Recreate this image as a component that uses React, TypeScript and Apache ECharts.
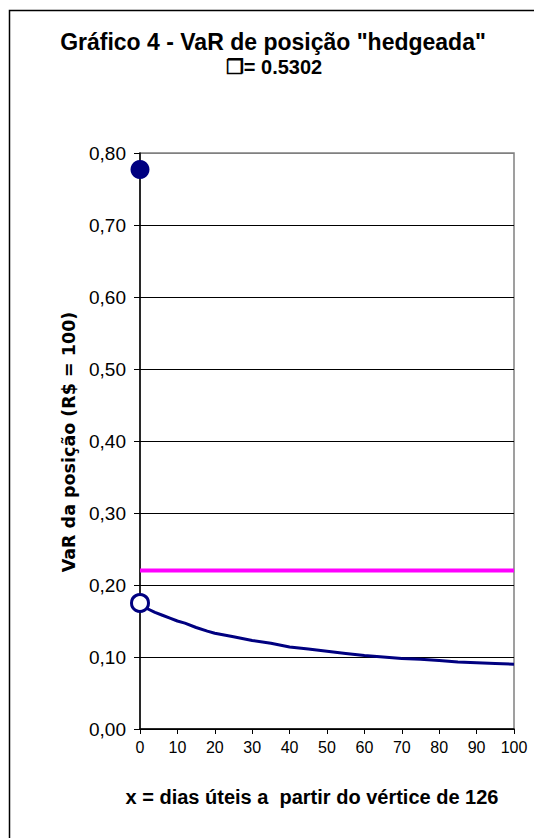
import React, { useEffect, useRef } from "react";
import * as echarts from "echarts";

const titleLine1 = 'Gráfico 4 - VaR de posição "hedgeada"';
const titleLine2 = "❐= 0.5302";
const yAxisTitle = "VaR da posição (R$ = 100)";
const xAxisTitle = "x = dias úteis a  partir do vértice de 126";

const xTicks = [0, 10, 20, 30, 40, 50, 60, 70, 80, 90, 100];
const yTicks = [0, 0.1, 0.2, 0.3, 0.4, 0.5, 0.6, 0.7, 0.8];

// VaR curve of the hedged position (days vs VaR)
const varDays = [0, 2, 4, 6, 8, 10, 12, 15, 18, 20, 25, 30, 35, 40, 45, 50, 55, 60, 65, 70, 75, 80, 85, 90, 95, 100];
const varValues = [0.175, 0.167, 0.162, 0.158, 0.154, 0.15, 0.147, 0.141, 0.136, 0.133, 0.128, 0.123, 0.119, 0.114, 0.111, 0.108, 0.105, 0.102, 0.1, 0.098, 0.097, 0.095, 0.093, 0.092, 0.091, 0.09];

// reference level (magenta)
const refDays = [0, 100];
const refValues = [0.22, 0.22];

// highlighted points
const openPoint = [0, 0.175];
const filledPoint = [0, 0.777];

const FONT = "'Liberation Sans', Arial, sans-serif";

export default function App() {
  const ref = useRef<HTMLDivElement>(null);
  useEffect(() => {
    if (!ref.current) return;
    const chart = echarts.init(ref.current, null, { renderer: "svg" });
    const splitColors = yTicks.map((_, i) => (i === yTicks.length - 1 ? "#808080" : "#000000"));
    chart.setOption({
      animation: false,
      backgroundColor: "#ffffff",
      textStyle: { fontFamily: FONT },
      grid: {
        left: 140,
        right: 20,
        top: 153,
        bottom: 109,
        show: true,
        borderColor: "#808080",
        borderWidth: 1.5,
        backgroundColor: "transparent",
      },
      xAxis: {
        type: "value",
        min: 0,
        max: 100,
        interval: 10,
        axisLine: { show: true, onZero: false, lineStyle: { color: "#000", width: 1.5 } },
        axisTick: { show: true, inside: false, length: 5, lineStyle: { color: "#000", width: 1 } },
        axisLabel: {
          color: "#000",
          fontSize: 16,
          fontFamily: FONT,
          margin: 10,
          formatter: (v: number) => (xTicks.includes(v) ? String(v) : ""),
        },
        splitLine: { show: false },
      },
      yAxis: {
        type: "value",
        min: 0,
        max: 0.8,
        interval: 0.1,
        axisLine: { show: true, onZero: false, lineStyle: { color: "#000", width: 1.5 } },
        axisTick: { show: true, inside: false, length: 6, lineStyle: { color: "#000", width: 1 } },
        axisLabel: {
          color: "#000",
          fontSize: 19,
          fontFamily: FONT,
          margin: 14,
          formatter: (v: number) => v.toFixed(2).replace(".", ","),
        },
        splitLine: { show: true, lineStyle: { color: splitColors, width: 1 } },
      },
      graphic: [
        {
          type: "rect",
          silent: true,
          z: 100,
          shape: { x: 9.5, y: 10.5, width: 700, height: 1000 },
          style: { fill: "none", stroke: "#000", lineWidth: 1.5 },
        },
        {
          type: "text",
          x: 273,
          y: 42,
          style: {
            text: titleLine1,
            fontFamily: FONT,
            fontWeight: "bold",
            fontSize: 23,
            fill: "#000",
            align: "center",
            verticalAlign: "middle",
          },
        },
        {
          type: "text",
          x: 274,
          y: 67,
          style: {
            text: titleLine2,
            fontFamily: FONT,
            fontWeight: "bold",
            fontSize: 20,
            fill: "#000",
            align: "center",
            verticalAlign: "middle",
          },
        },
        {
          type: "text",
          x: 312,
          y: 797,
          style: {
            text: xAxisTitle,
            fontFamily: FONT,
            fontWeight: "bold",
            fontSize: 20,
            fill: "#000",
            align: "center",
            verticalAlign: "middle",
          },
        },
        {
          type: "text",
          x: 69,
          y: 442,
          rotation: Math.PI / 2,
          style: {
            text: yAxisTitle,
            fontFamily: "'DejaVu Sans', sans-serif",
            fontWeight: "bold",
            fontSize: 17.5,
            fill: "#000",
            align: "center",
            verticalAlign: "middle",
          },
        },
      ],
      series: [
        {
          name: "Referência",
          type: "line",
          data: refDays.map((d, i) => [d, refValues[i]]),
          showSymbol: false,
          lineStyle: { color: "#ff00ff", width: 4 },
          z: 3,
        },
        {
          name: "VaR",
          type: "line",
          data: varDays.map((d, i) => [d, varValues[i]]),
          showSymbol: false,
          lineStyle: { color: "#000080", width: 3 },
          z: 4,
        },
        {
          name: "Início",
          type: "scatter",
          data: [openPoint],
          symbol: "circle",
          symbolSize: 17,
          itemStyle: { color: "#ffffff", borderColor: "#000080", borderWidth: 3, opacity: 1 },
          z: 5,
        },
        {
          name: "Sem hedge",
          type: "scatter",
          data: [filledPoint],
          symbol: "circle",
          symbolSize: 19,
          itemStyle: { color: "#000080", opacity: 1 },
          z: 5,
        },
      ],
    });
    return () => chart.dispose();
  }, []);
  return (
    <div
      ref={ref}
      style={{ position: "fixed", left: 0, top: 0, width: 534, height: 838, background: "#fff" }}
    />
  );
}
